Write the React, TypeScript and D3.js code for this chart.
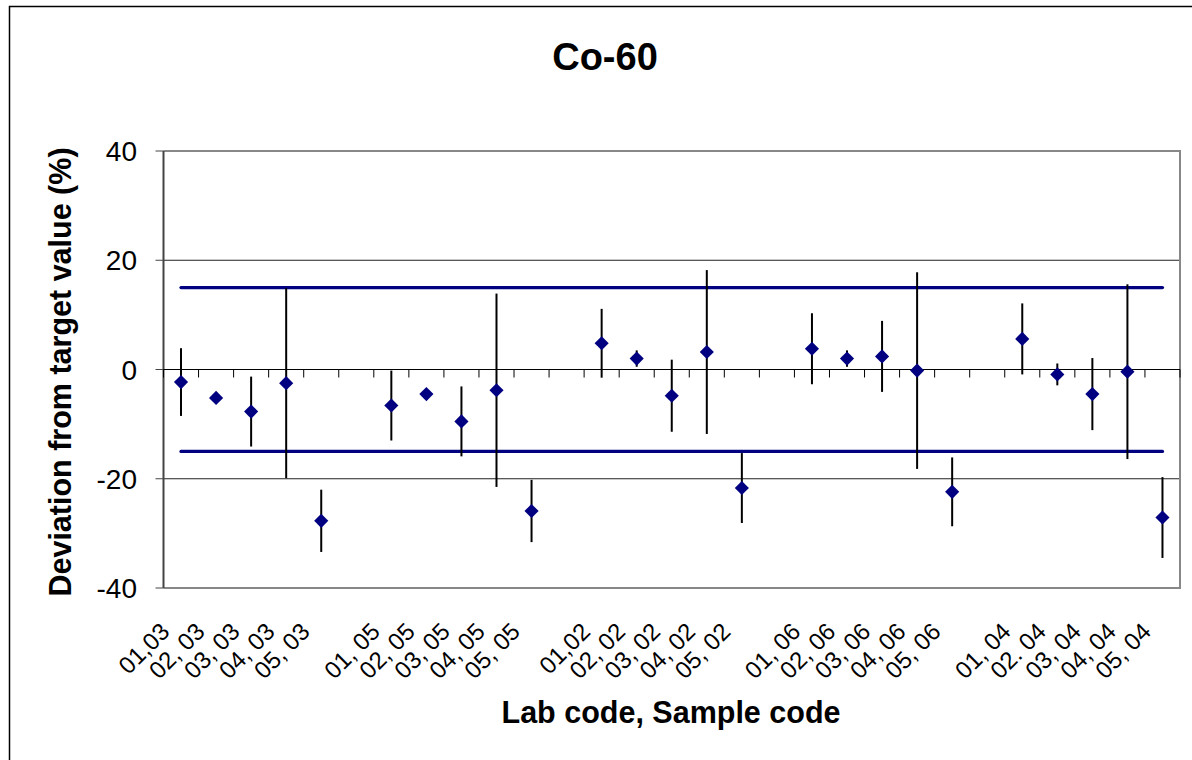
import React from 'react';
import * as d3 from 'd3';

// Lab code, Sample code (blank entries are the gaps between sample groups)
const labels = [
  '01,03', '02, 03', '03, 03', '04, 03', '05, 03', '',
  '01, 05', '02, 05', '03, 05', '04, 05', '05, 05', '',
  '01,02', '02, 02', '03, 02', '04, 02', '05, 02', '',
  '01, 06', '02, 06', '03, 06', '04, 06', '05, 06', '',
  '01, 04', '02. 04', '03, 04', '04, 04', '05, 04',
];

// Deviation from target value (%)
const deviations: (number | null)[] = [
  -2.3, -5.2, -7.7, -2.5, -27.7, null,
  -6.6, -4.5, -9.5, -3.8, -25.9, null,
  4.8, 2.0, -4.8, 3.2, -21.7, null,
  3.8, 2.0, 2.4, -0.2, -22.4, null,
  5.6, -0.9, -4.5, -0.4, -27.1,
];

// Uncertainty (error bar half-length)
const uncertainties: (number | null)[] = [
  6.2, 0.8, 6.4, 17.4, 5.7, null,
  6.4, 0.8, 6.4, 17.7, 5.7, null,
  6.3, 1.5, 6.6, 15.0, 6.4, null,
  6.5, 1.5, 6.5, 18.0, 6.3, null,
  6.5, 2.0, 6.6, 16.0, 7.4,
];

const limits = [15, -15];
const yTicks = [-40, -20, 0, 20, 40];

const W = 1192;
const H = 760;
const left = 163.5;
const right = 1180;
const top = 151;
const bottom = 588;
const font = '"Liberation Sans", Arial, Helvetica, sans-serif';

export default function App() {
  const x = d3.scaleBand<number>()
    .domain(d3.range(labels.length))
    .range([left, right])
    .padding(0);
  const y = d3.scaleLinear().domain([-40, 40]).range([bottom, top]);
  const cx = (i: number) => (x(i) as number) + x.bandwidth() / 2;

  const diamond = d3.symbol().type(d3.symbolSquare).size(100)() as string;

  const points = deviations
    .map((v, i) => ({ i, v, e: uncertainties[i] }))
    .filter(d => d.v !== null) as { i: number; v: number; e: number }[];

  const firstX = cx(0);
  const lastX = cx(labels.length - 1);

  return (
    <svg width={W} height={H} style={{ position: 'absolute', left: 0, top: 0, background: '#fff' }}>
      <rect x={0} y={0} width={W} height={H} fill="#fff" />
      {/* chart area border */}
      <rect x={9.5} y={6.5} width={1300} height={900} fill="none" stroke="#000" strokeWidth={1.5} />

      {/* title */}
      <text x={605} y={70} textAnchor="middle" fontFamily={font} fontWeight="bold" fontSize={38}>Co-60</text>

      {/* gridlines */}
      {[20, -20].map(t => (
        <line key={t} x1={left} x2={right} y1={y(t)} y2={y(t)} stroke="#222" strokeWidth={1} />
      ))}

      {/* plot area border */}
      <path d={`M${left},${top}H${right}V${bottom}H${left}`} fill="none" stroke="#888" strokeWidth={2} />

      {/* y axis */}
      <line x1={left} x2={left} y1={top} y2={bottom} stroke="#444" strokeWidth={2} />
      {yTicks.map(t => (
        <g key={t}>
          <line x1={left - 8} x2={left} y1={y(t)} y2={y(t)} stroke="#444" strokeWidth={1} />
          <text x={137} y={y(t) + 10} textAnchor="end" fontFamily={font} fontSize={28}>{t}</text>
        </g>
      ))}

      {/* x axis at zero with category ticks */}
      <line x1={left} x2={right} y1={y(0)} y2={y(0)} stroke="#000" strokeWidth={1} />
      {d3.range(labels.length + 1).map(k => {
        const tx = left + k * x.bandwidth();
        return <line key={k} x1={tx} x2={tx} y1={y(0)} y2={y(0) + 8} stroke="#000" strokeWidth={1} />;
      })}

      {/* x tick labels */}
      {labels.map((l, i) => l ? (
        <text key={i} transform={`translate(${cx(i) - 10},633) rotate(-45)`} textAnchor="end"
          fontFamily={font} fontSize={24}>{l}</text>
      ) : null)}

      {/* limit lines */}
      {limits.map(v => (
        <line key={v} x1={firstX} x2={lastX} y1={y(v)} y2={y(v)} stroke="#000080" strokeWidth={3.3} strokeLinecap="round" />
      ))}

      {/* error bars */}
      {points.map(d => (
        <line key={'e' + d.i} x1={cx(d.i)} x2={cx(d.i)} y1={y(d.v + d.e)} y2={y(d.v - d.e)} stroke="#000" strokeWidth={2} />
      ))}

      {/* points */}
      {points.map(d => (
        <path key={'p' + d.i} d={diamond} transform={`translate(${cx(d.i)},${y(d.v)}) rotate(45)`} fill="#000080" />
      ))}

      {/* axis titles */}
      <text transform={`translate(71,372) rotate(-90)`} textAnchor="middle" fontFamily={font} fontWeight="bold" fontSize={30.5}>
        Deviation from target value (%)
      </text>
      <text x={671} y={723} textAnchor="middle" fontFamily={font} fontWeight="bold" fontSize={30.5}>
        Lab code, Sample code
      </text>
    </svg>
  );
}
